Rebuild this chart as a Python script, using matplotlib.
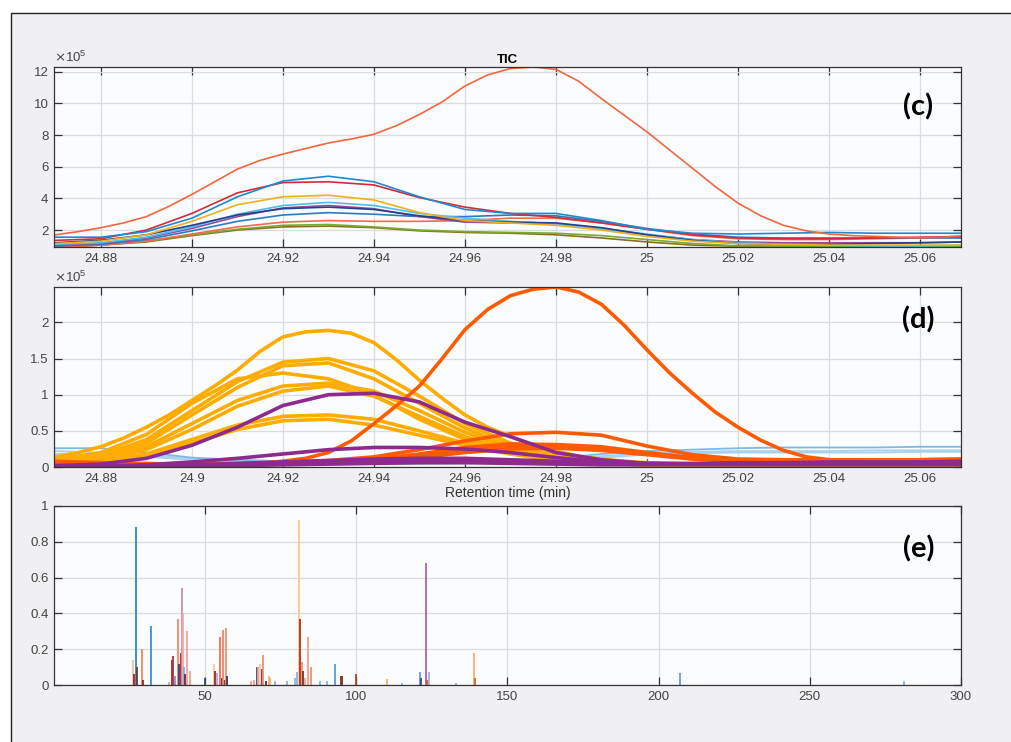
import matplotlib
matplotlib.use("Agg")
import matplotlib.pyplot as plt
from matplotlib.patches import Rectangle

plt.rcParams['font.family'] = ['Liberation Sans', 'DejaVu Sans']
plt.rcParams['lines.solid_joinstyle'] = 'round'

# retention time grid (min)
t = [24.87, 24.88, 24.89, 24.90, 24.91, 24.92, 24.93, 24.94, 24.95, 24.96, 24.97,
     24.98, 24.99, 25.00, 25.01, 25.02, 25.03, 25.04, 25.05, 25.06, 25.07]
# finer grid for the tall peaks
tf = [24.87, 24.875, 24.88, 24.885, 24.89, 24.895, 24.90, 24.905, 24.91, 24.915, 24.92,
      24.925, 24.93, 24.935, 24.94, 24.945, 24.95, 24.955, 24.96, 24.965, 24.97,
      24.975, 24.98, 24.985, 24.99, 24.995, 25.00, 25.005, 25.01, 25.015, 25.02,
      25.025, 25.03, 25.035, 25.04, 25.045, 25.05, 25.055, 25.06, 25.065, 25.07]

# (c) TIC curves, x1e5
tic_orange = [1.7, 1.9, 2.15, 2.45, 2.85, 3.5, 4.25, 5.05, 5.85, 6.4, 6.8,
              7.15, 7.5, 7.75, 8.05, 8.6, 9.3, 10.1, 11.1, 11.8, 12.2,
              12.3, 12.15, 11.4, 10.3, 9.25, 8.2, 7.05, 5.9, 4.75, 3.7,
              2.9, 2.3, 1.95, 1.75, 1.65, 1.6, 1.55, 1.5, 1.55, 1.65]
tic_blue = [1.55, 1.55, 1.9, 2.75, 4.1, 5.1, 5.4, 5.05, 4.1, 3.3, 3.05, 3.05, 2.6, 2.05, 1.8, 1.75, 1.8, 1.85, 1.8, 1.8, 1.8]
tic_red = [1.35, 1.45, 2.0, 3.05, 4.35, 5.0, 5.05, 4.85, 4.05, 3.45, 3.05, 2.8, 2.45, 2.05, 1.7, 1.5, 1.45, 1.45, 1.5, 1.55, 1.6]
tic_yellow = [1.15, 1.3, 1.7, 2.55, 3.6, 4.1, 4.2, 3.9, 3.1, 2.6, 2.45, 2.3, 2.0, 1.6, 1.3, 1.15, 1.1, 1.05, 1.05, 1.05, 1.05]
tic_navy = [1.2, 1.35, 1.7, 2.3, 2.95, 3.35, 3.45, 3.3, 2.9, 2.6, 2.5, 2.45, 2.15, 1.7, 1.35, 1.15, 1.1, 1.1, 1.15, 1.2, 1.25]
tic_cyan = [1.1, 1.2, 1.55, 2.2, 3.0, 3.55, 3.75, 3.55, 3.05, 2.75, 2.55, 2.4, 2.1, 1.75, 1.4, 1.2, 1.1, 1.05, 1.0, 1.0, 1.05]
tic_purple = [1.05, 1.15, 1.5, 2.1, 2.85, 3.4, 3.55, 3.35, 2.85, 2.5, 2.45, 2.4, 2.1, 1.7, 1.4, 1.25, 1.2, 1.2, 1.2, 1.2, 1.25]
tic_blue2 = [1.0, 1.1, 1.4, 1.95, 2.55, 2.95, 3.1, 3.0, 2.85, 2.85, 2.95, 2.9, 2.55, 2.1, 1.75, 1.55, 1.5, 1.5, 1.5, 1.5, 1.5]
tic_salmon = [0.95, 1.05, 1.3, 1.75, 2.2, 2.5, 2.6, 2.55, 2.55, 2.6, 2.75, 2.75, 2.45, 2.05, 1.65, 1.45, 1.4, 1.4, 1.45, 1.5, 1.55]
tic_green = [0.95, 1.05, 1.3, 1.7, 2.05, 2.3, 2.35, 2.2, 2.0, 1.9, 1.85, 1.8, 1.65, 1.4, 1.15, 1.0, 0.98, 0.97, 0.97, 0.97, 0.97]
tic_olive = [0.9, 1.05, 1.25, 1.65, 2.0, 2.2, 2.25, 2.15, 1.95, 1.85, 1.8, 1.7, 1.5, 1.25, 1.05, 0.98, 0.96, 0.96, 0.96, 0.96, 0.96]

# (d) deconvolved components, x1e5
orange1 = [0.14, 0.2, 0.28, 0.4, 0.55, 0.72, 0.92, 1.12, 1.34, 1.6, 1.8,
           1.87, 1.89, 1.85, 1.72, 1.48, 1.2, 0.95, 0.72, 0.55, 0.42,
           0.3, 0.22, 0.15, 0.11, 0.08, 0.06, 0.05, 0.04, 0.03, 0.03,
           0.03, 0.03, 0.03, 0.03, 0.03, 0.03, 0.03, 0.03, 0.03, 0.03]
orange2 = [0.09, 0.16, 0.38, 0.78, 1.18, 1.45, 1.5, 1.33, 0.98, 0.6, 0.33, 0.17, 0.09, 0.05, 0.03, 0.03, 0.02, 0.02, 0.02, 0.02, 0.02]
orange3 = [0.08, 0.14, 0.33, 0.72, 1.1, 1.4, 1.44, 1.22, 0.88, 0.54, 0.28, 0.14, 0.07, 0.04, 0.03, 0.02, 0.02, 0.02, 0.02, 0.02, 0.02]
orange4 = [0.1, 0.2, 0.45, 0.88, 1.22, 1.3, 1.22, 1.0, 0.66, 0.38, 0.2, 0.1, 0.05, 0.03, 0.02, 0.02, 0.02, 0.02, 0.02, 0.02, 0.02]
orange5 = [0.07, 0.12, 0.28, 0.6, 0.92, 1.12, 1.16, 1.05, 0.78, 0.48, 0.26, 0.13, 0.06, 0.03, 0.02, 0.02, 0.02, 0.02, 0.02, 0.02, 0.02]
orange6 = [0.06, 0.1, 0.24, 0.52, 0.84, 1.05, 1.12, 0.98, 0.7, 0.42, 0.22, 0.11, 0.05, 0.03, 0.02, 0.02, 0.02, 0.02, 0.02, 0.02, 0.02]
orange7 = [0.05, 0.08, 0.18, 0.38, 0.58, 0.7, 0.72, 0.66, 0.5, 0.33, 0.2, 0.1, 0.05, 0.03, 0.02, 0.02, 0.02, 0.02, 0.02, 0.02, 0.02]
orange8 = [0.04, 0.07, 0.15, 0.33, 0.52, 0.64, 0.66, 0.58, 0.44, 0.3, 0.18, 0.09, 0.05, 0.03, 0.02, 0.02, 0.02, 0.02, 0.02, 0.02, 0.02]

purple1 = [0.02, 0.04, 0.12, 0.3, 0.55, 0.85, 1.0, 1.02, 0.9, 0.62, 0.42, 0.2, 0.1, 0.05, 0.04, 0.04, 0.04, 0.04, 0.04, 0.04, 0.04]
purple2 = [0.01, 0.01, 0.03, 0.07, 0.12, 0.18, 0.24, 0.27, 0.27, 0.25, 0.2, 0.13, 0.07, 0.04, 0.04, 0.04, 0.05, 0.05, 0.05, 0.05, 0.05]
purple3 = [0.01, 0.01, 0.02, 0.03, 0.05, 0.07, 0.09, 0.11, 0.12, 0.12, 0.1, 0.08, 0.06, 0.05, 0.05, 0.06, 0.06, 0.07, 0.07, 0.07, 0.08]
purple4 = [0.0, 0.01, 0.01, 0.02, 0.03, 0.05, 0.07, 0.08, 0.09, 0.09, 0.08, 0.06, 0.05, 0.04, 0.04, 0.05, 0.05, 0.05, 0.06, 0.06, 0.06]
purple5 = [0.0, 0.0, 0.01, 0.01, 0.02, 0.03, 0.04, 0.05, 0.06, 0.06, 0.05, 0.04, 0.03, 0.03, 0.03, 0.03, 0.03, 0.03, 0.03, 0.03, 0.03]

red1 = [0.08, 0.07, 0.06, 0.05, 0.05, 0.04, 0.04, 0.04, 0.04, 0.05, 0.08,
        0.12, 0.2, 0.36, 0.6, 0.85, 1.12, 1.5, 1.9, 2.18, 2.37,
        2.46, 2.49, 2.42, 2.25, 1.96, 1.62, 1.3, 1.02, 0.76, 0.55,
        0.37, 0.23, 0.14, 0.1, 0.09, 0.08, 0.08, 0.08, 0.09, 0.1]
red2 = [0.05, 0.04, 0.04, 0.04, 0.05, 0.06, 0.09, 0.14, 0.24, 0.36, 0.46, 0.48, 0.44, 0.29, 0.17, 0.11, 0.1, 0.1, 0.1, 0.1, 0.11]
red3 = [0.04, 0.03, 0.03, 0.03, 0.04, 0.05, 0.07, 0.11, 0.18, 0.27, 0.32, 0.31, 0.28, 0.2, 0.13, 0.1, 0.1, 0.1, 0.1, 0.1, 0.11]
red4 = [0.03, 0.03, 0.03, 0.03, 0.03, 0.04, 0.06, 0.1, 0.16, 0.24, 0.29, 0.29, 0.26, 0.19, 0.12, 0.09, 0.09, 0.09, 0.09, 0.1, 0.1]
red5 = [0.03, 0.03, 0.02, 0.02, 0.03, 0.04, 0.05, 0.08, 0.13, 0.2, 0.25, 0.26, 0.23, 0.17, 0.11, 0.08, 0.08, 0.08, 0.09, 0.09, 0.09]

blue1 = [0.26, 0.26, 0.2, 0.13, 0.1, 0.08, 0.06, 0.05, 0.05, 0.06, 0.08, 0.12, 0.18, 0.22, 0.24, 0.26, 0.27, 0.27, 0.27, 0.28, 0.28]
blue2 = [0.22, 0.2, 0.16, 0.12, 0.08, 0.06, 0.05, 0.04, 0.04, 0.05, 0.07, 0.1, 0.15, 0.19, 0.21, 0.22, 0.22, 0.22, 0.23, 0.23, 0.23]
blue3 = [0.18, 0.17, 0.14, 0.1, 0.07, 0.05, 0.04, 0.04, 0.04, 0.05, 0.06, 0.09, 0.13, 0.17, 0.19, 0.2, 0.2, 0.2, 0.2, 0.21, 0.21]

# (e) mass spectra: m/z, relative intensity, colour
mz = [26, 26.5, 27, 27.3, 29, 29.3, 32, 38, 39, 39.4, 40, 41, 41.2, 42, 42.3, 42.7, 43, 43.3,
      44, 45, 50, 53, 53.2, 54, 55, 55.5, 56, 56.4, 57, 57.2, 65, 66, 67, 67.6, 68.1, 68.8, 69,
      70, 71, 71.6, 73, 77, 79.6, 80.3, 81.2, 81.4, 82, 82.4, 83, 84, 85, 88, 90.3, 93,
      95, 95.3, 100, 110, 115, 121, 121.4, 123, 123.3, 124, 133, 139, 139.2, 207, 281]
inten = [0.14, 0.06, 0.88, 0.1, 0.2, 0.03, 0.33, 0.015, 0.14, 0.16, 0.05, 0.37, 0.12, 0.18, 0.54, 0.4,
         0.1, 0.06, 0.3, 0.08, 0.04, 0.12, 0.08, 0.065, 0.27, 0.04, 0.31, 0.03, 0.32, 0.05, 0.025, 0.03,
         0.1, 0.1, 0.12, 0.09, 0.17, 0.02, 0.05, 0.04, 0.02, 0.02, 0.04, 0.07, 0.92, 0.37, 0.13, 0.08,
         0.04, 0.27, 0.1, 0.02, 0.02, 0.12, 0.05, 0.05, 0.06, 0.035, 0.01, 0.075, 0.04, 0.68, 0.03,
         0.07, 0.01, 0.18, 0.04, 0.065, 0.02]
colr = ['#f2c2a8', '#a8231c', '#2f86c8', '#6b3a2a', '#f08a55', '#a8231c', '#3f8fcf', '#f4a08a', '#a8231c', '#b03040',
        '#9a88c0', '#f4876a', '#4a3a6a', '#a8231c', '#c595a8', '#f7aaa5', '#8fa8d8', '#5a3050', '#f4a0a0', '#f6a07e',
        '#3a4a7a', '#f8c8a0', '#a8231c', '#b8a8d8', '#f07050', '#5a3050', '#f4826a', '#6b3a2a', '#f4906e', '#5a3050',
        '#f4a08a', '#f4a08a', '#3a4a7a', '#f4a08a', '#f8c8a0', '#5a3a6a', '#f4906e', '#5a3050', '#f8b070', '#f8b070',
        '#8cb4e0', '#8cb4e0', '#8cb4e0', '#8cb4e0', '#fdc890', '#b4301c', '#f4906e', '#6b3a2a', '#f4a08a', '#f4a08a',
        '#f4906e', '#8cb4e0', '#8cb4e0', '#5a9ad8', '#a8231c', '#6b3a2a', '#c04020', '#f8b070', '#8cb4e0', '#6a9ad8',
        '#3a4a7a', '#b060b0', '#e05030', '#9ab0e0', '#8cb4e0', '#f8b070', '#d06020', '#6a9ad8', '#8cb4e0']

fig = plt.figure(figsize=(10.11, 7.42), dpi=100)
fig.patches.append(Rectangle((11 / 1011, -0.1), 1.2, 1 - 13 / 742 + 0.1, transform=fig.transFigure,
                             facecolor='#f0f0f2', edgecolor='#222222', lw=1.0, zorder=-10))


def style(ax):
    ax.set_facecolor('#fafcfe')
    ax.grid(True, color='#dcdcdc', lw=0.9)
    ax.set_axisbelow(True)
    ax.tick_params(direction='in', length=6, width=0.9, top=True, right=True,
                   colors='#333333', labelcolor='#444444', labelsize=9.5, pad=4)
    for s in ax.spines.values():
        s.set_color('#333333')
        s.set_linewidth(0.9)


xt = [24.88, 24.9, 24.92, 24.94, 24.96, 24.98, 25.0, 25.02, 25.04, 25.06]
xtl = ['24.88', '24.9', '24.92', '24.94', '24.96', '24.98', '25', '25.02', '25.04', '25.06']

# (c)
ax1 = fig.add_axes([54 / 1011, 1 - 247 / 742, 907 / 1011, 180 / 742])
style(ax1)
tic = [(tic_olive, '#8a6d1f'), (tic_green, '#77ac30'), (tic_salmon, '#f26b4f'), (tic_blue2, '#2b7bc0'),
       (tic_purple, '#9a4a9e'), (tic_cyan, '#4dbeee'), (tic_navy, '#24408e'), (tic_yellow, '#edb120'),
       (tic_red, '#d6283b'), (tic_blue, '#1e8ad0')]
for y, c in tic:
    ax1.plot(t, y, color=c, lw=1.2)
ax1.plot(tf, tic_orange, color='#f4663f', lw=1.2)
ax1.set_xlim(24.8697, 25.069)
ax1.set_ylim(0.93, 12.3)
ax1.set_xticks(xt)
ax1.set_xticklabels(xtl)
ax1.set_yticks([2, 4, 6, 8, 10, 12])
ax1.set_yticklabels(['2', '4', '6', '8', '10', '12'])
ax1.set_title('TIC', fontsize=9.5, fontweight='bold', pad=3)
ax1.text(0.0, 1.01, r'$\times\mathregular{10^5}$', transform=ax1.transAxes, fontsize=9.5,
         color='#444444', ha='left', va='bottom')
ax1.text(0.953, 0.78, '(c)', transform=ax1.transAxes, fontsize=21, fontweight='bold',
         family='Lato', ha='center', va='center')

# (d)
ax2 = fig.add_axes([54 / 1011, 1 - 467 / 742, 907 / 1011, 180 / 742])
style(ax2)
for y in [blue3, blue2]:
    ax2.plot(t, y, color='#a6d2f0', lw=1.3)
ax2.plot(t, blue1, color='#7db8e6', lw=1.3)
for y in [orange8, orange7, orange6, orange5, orange4, orange3, orange2]:
    ax2.plot(t, y, color='#ffac00', lw=2.6)
ax2.plot(tf, orange1, color='#ffac00', lw=2.6)
for y in [red5, red4, red3, red2]:
    ax2.plot(t, y, color='#ff5a00', lw=2.6)
ax2.plot(tf, red1, color='#ff5a00', lw=2.6)
for y in [purple5, purple4, purple3, purple2, purple1]:
    ax2.plot(t, y, color='#8e2a8e', lw=2.6)
ax2.set_xlim(24.8697, 25.069)
ax2.set_ylim(0, 2.49)
ax2.set_xticks(xt)
ax2.set_xticklabels(xtl)
ax2.set_yticks([0, 0.5, 1, 1.5, 2])
ax2.set_yticklabels(['0', '0.5', '1', '1.5', '2'])
ax2.set_xlabel('Retention time (min)', fontsize=10, color='#333333', labelpad=1)
ax2.text(0.0, 1.01, r'$\times\mathregular{10^5}$', transform=ax2.transAxes, fontsize=9.5,
         color='#444444', ha='left', va='bottom')
ax2.text(0.953, 0.82, '(d)', transform=ax2.transAxes, fontsize=21, fontweight='bold',
         family='Lato', ha='center', va='center')

# (e)
ax3 = fig.add_axes([54 / 1011, 1 - 685 / 742, 907 / 1011, 179 / 742])
style(ax3)
ax3.vlines(mz, 0, inten, colors=colr, lw=1.3)
ax3.set_xlim(0, 300)
ax3.set_ylim(0, 1)
ax3.set_xticks([50, 100, 150, 200, 250, 300])
ax3.set_xticklabels(['50', '100', '150', '200', '250', '300'])
ax3.set_yticks([0, 0.2, 0.4, 0.6, 0.8, 1])
ax3.set_yticklabels(['0', '0.2', '0.4', '0.6', '0.8', '1'])
ax3.text(0.953, 0.76, '(e)', transform=ax3.transAxes, fontsize=21, fontweight='bold',
         family='Lato', ha='center', va='center')

fig.savefig('out.png', dpi=100, facecolor='white')
